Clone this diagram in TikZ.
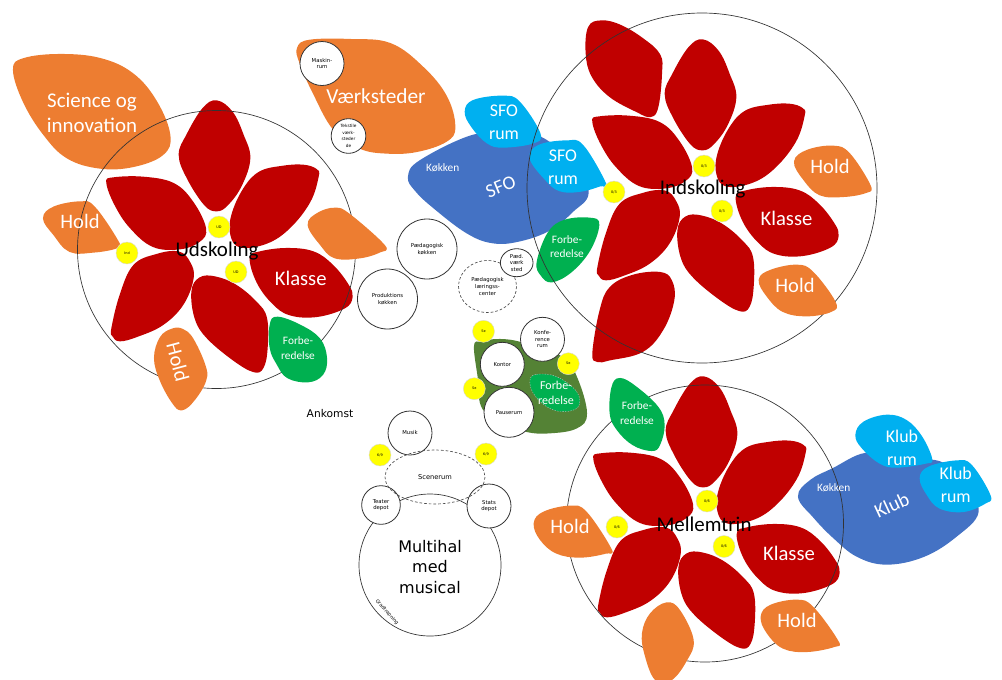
\documentclass[tikz,border=0pt]{standalone}
\usepackage{fontspec}
\usetikzlibrary{shapes.geometric}
\setmainfont{Carlito}
\newfontfamily\dvf{DejaVu Sans}
\definecolor{redp}{HTML}{C00000}
\definecolor{orap}{HTML}{ED7D31}
\definecolor{blup}{HTML}{4472C4}
\definecolor{cyap}{HTML}{00B0F0}
\definecolor{grnp}{HTML}{00B050}
\definecolor{dgrn}{HTML}{548235}
\definecolor{yelc}{HTML}{FFFF00}
\tikzset{
 ring/.style={draw=black!80,line width=0.5pt},
 dring/.style={draw=black!70,line width=0.5pt,dash pattern=on 2pt off 1.5pt},
 room/.style={circle,draw=black!80,fill=white,line width=0.6pt,inner sep=0pt,align=center,font=\dvf\fontsize{4}{4.8}\selectfont},
 yelb/.style={circle,fill=yelc,draw=black!15,line width=0.3pt,minimum size=16.5pt,inner sep=0pt,font=\dvf\fontsize{2.6}{3}\selectfont},
 wt/.style={text=white,align=center,inner sep=0pt},
 ttl/.style={text=black,inner sep=0pt,font=\fontsize{15.7}{18}\selectfont},
 holdt/.style={wt,font=\fontsize{15.4}{18}\selectfont},
 klt/.style={wt,font=\fontsize{15.5}{18}\selectfont},
 fbt/.style={wt,font=\fontsize{8.5}{11}\selectfont},
 rumt/.style={wt,font=\fontsize{13.4}{17.5}\selectfont},
 kkt/.style={wt,font=\fontsize{8.5}{10}\selectfont},
}
\newcommand{\blob}[2]{\path[fill=#1,draw=#1,line width=2pt,line join=round] plot[smooth cycle,tension=0.65] coordinates {#2};}
\newcommand{\flower}{%
 \blob{redp}{(216.7,101.7)(231.7,112.7)(242.3,135)(249,158.3)(240.7,185)(227.3,204)(216.7,210)(205,204)(188.3,178.3)(180,155)(187.7,135)(203.3,109.3)}
 \blob{redp}{(107.7,183.3)(113.3,178.7)(143.3,178)(173.3,184.3)(192.3,202.7)(204.7,228.3)(199,240.7)(180,248)(153.3,245.7)(131,227.3)(116,205)}
 \blob{redp}{(303.3,166)(315.7,170)(317.3,176.7)(309,201.7)(289,227.3)(266.7,242.3)(241,246.3)(231.7,235)(232.7,215)(244.3,189.3)(260,172.7)(283.3,167)}
 \blob{redp}{(251,258.3)(260,252.7)(286.7,249.3)(313.3,252.7)(332.3,266)(347.3,285)(351.3,296.7)(344,307.3)(316.7,315.7)(290,314)(272.7,302.3)(257.7,281.7)}
 \blob{redp}{(192.7,291.7)(200,278.7)(215,277.7)(235.7,286)(255.7,302.7)(265.7,318.3)(266.3,348.3)(262.3,367.3)(253.3,370.7)(233.3,359)(207.7,337.3)(196,318.3)}
 \blob{redp}{(112.7,328.3)(121,295)(134.3,266)(156.7,255.3)(178.3,252.7)(189,262.7)(192.3,278.3)(182.3,304)(162.3,324)(136.7,335.7)(120,340)(113.7,335.7)}
}
\begin{document}
\begin{tikzpicture}[x=0.75pt,y=-0.75pt]
\useasboundingbox (0,0) rectangle (1002,679);
% science, vaerksteder
\blob{orap}{(14.3,70)(24.3,59.3)(60,55.3)(100,59.3)(132.3,74.3)(155.7,101.7)(169,135)(162.3,154)(133.3,165.7)(100,167.3)(67.7,157.3)(44.3,134)(24.3,101.7)}
\blob{orap}{(298.3,48.3)(310,41)(350,40.3)(390,44.3)(422.3,67.7)(445.7,96.7)(454,126.7)(445.7,140.7)(416.7,150.7)(386.7,152.3)(360,147.3)(334.3,129)(314.3,93.3)(301,63.3)}
% sfo
\blob{blup}{(409.3,176.7)(421,161)(473.3,136)(510,136)(540,137.7)(574,166)(587.3,193)(572,211)(550,229)(520,240)(493,242)(467,232)(434,207)(416,190)}
\blob{cyap}{(466,111.7)(474.3,101)(503.3,97)(519,102.7)(539,133.3)(532.3,142.3)(503.3,146.3)(487.7,142.3)(472.7,126.7)}
\blob{cyap}{(531,158.3)(539.3,146)(566.7,141.7)(582.3,146)(604,182)(600,185)(580,190.5)(560,190)(546,179)}
% udskoling
\flower
\blob{orap}{(44.3,218.3)(54.3,207.7)(80,202.7)(94,207.7)(117.3,241.7)(115.7,247.3)(93.3,251.3)(70,250.7)(54.3,234)}
\draw[ring] (216.5,249.5) circle (139);
\blob{orap}{(309,225)(318,214)(335,209)(349,215)(383,245)(380,251)(360,257)(335,257)(321,244)}
\blob{orap}{(155.3,358)(161,338)(172,330)(182,330)(192,339)(204,365)(205,380)(194,399)(182,409)(173,402)(161,380)}
\blob{grnp}{(271,325)(277.7,318)(300,326)(319,339.3)(325.7,358)(322,374)(308,381)(288,377)(278,364)(271,348)}
% indskoling
\begin{scope}[shift={(486,-61)}]
 \flower
\end{scope}
\blob{redp}{(587,53.3)(589.3,27.7)(601.7,21.7)(620,26)(642.3,39.3)(659,55)(660.7,73.3)(657.3,105.7)(650.7,115.7)(636.7,110.7)(610,95.7)(592.7,75.7)}
\blob{redp}{(593.7,352.3)(601,310)(611,287.7)(633.3,276)(660,273.3)(670.7,281)(673,300)(662.3,329)(642.3,350.7)(610,359)(597.7,360.7)}
\blob{grnp}{(598,225)(590,219)(565,221)(549,233)(538,262)(542,275)(552,281)(571,271)(589,250)}
\draw[ring] (702,188) circle (175);
\blob{orap}{(795.3,161.7)(807.7,151)(833.3,147)(849,154.3)(869,185)(865.7,191.7)(843.3,195.7)(820,194)(804.3,179)}
\blob{orap}{(760,280)(771,271)(796.7,266)(812.3,272.7)(834,301.7)(830.7,310.7)(806.7,315)(783.3,310.7)(767.7,295.7)}
% klub
\blob{blup}{(799.3,496.7)(811,481)(833.3,469.3)(865,454.3)(890,461)(940,462.7)(962.3,486.7)(977.3,511.7)(955.7,535.7)(923.3,555.7)(886.7,563.3)(857.7,555.7)(834.3,537.3)(814.3,516.7)}
\blob{cyap}{(856.7,435)(864.3,422.7)(886.7,416)(905.7,421)(920.7,436.7)(930.7,458.3)(925.7,462.3)(896.7,466.3)(880,462.3)(862.7,447.3)}
\blob{cyap}{(921,478.3)(929.3,467.7)(956.7,461.7)(971,466)(989,495)(985,502.3)(963.3,510.7)(940,507.3)(927.7,494)}
% mellemtrin
\begin{scope}[shift={(487,276)}]
 \flower
\end{scope}
\draw[ring] (705,523.5) circle (138.5);
\blob{orap}{(535,523.3)(544.3,512.7)(570,507)(585.7,512.7)(609.7,548.3)(605.7,552.3)(580,556.3)(556.7,552.3)(541,539)}
\blob{orap}{(643.3,633.3)(651,614.3)(666.7,603.7)(679,611)(692.3,640)(685.7,660)(671,679)(656,679)(646,655)}
\blob{orap}{(762,616.7)(771,606)(796.7,601)(812.3,607.7)(836.3,640)(834,645.7)(806.7,650.7)(783.3,647.3)(767.7,632.3)}
\blob{grnp}{(611,413.3)(612.7,387.7)(620,379.3)(635.7,387.7)(657.3,407.7)(663.3,425)(659,444)(651.7,449.7)(633.3,444)(617.7,429)}
% admin
\blob{dgrn}{(475.3,346.7)(481,342.7)(500,340.3)(523,344)(562,358)(576,378)(585.7,413.3)(576,427.3)(550,432)(527,430.7)(510,422)(484,409)(479,377)}
\path[fill=grnp,draw=white!75!black,line width=0.3pt,dash pattern=on 1pt off 1pt] plot[smooth cycle,tension=0.65] coordinates {(530,380)(536.7,374.3)(556.7,376.7)(576.7,391.7)(578.3,406.7)(563.3,411.7)(546.7,406.7)(533.3,393.3)};
% rooms
\node[room,minimum size=33pt] (mask) at (322,63.5) {Maskin-\\rum};
\node[room,minimum size=26pt,font=\dvf\fontsize{3.2}{4.8}\selectfont] (tek) at (348.5,136) {Tekstile\\værk-\\steder\\de};
\node[room,minimum size=45pt] (pk) at (427,249) {Pædagogisk\\køkken};
\node[room,minimum size=45pt] (prod) at (387.5,299) {Produktions\\køkken};
\draw[dring,fill=white] (487.5,286.5) ellipse (29 and 26);
\node[inner sep=0pt,align=center,font=\dvf\fontsize{4}{5.2}\selectfont] (plc) at (487.5,286.5) {Pædagogisk\\læringss-\\center};
\node[room,ellipse,minimum width=24.5pt,minimum height=21pt] (pv) at (516.7,262.7) {Pæd.\\værk\\sted};
\node[room,minimum size=33pt] (konf) at (542.5,339.3) {Konfe-\\rence\\rum};
\node[room,minimum size=33pt] (kon) at (502.3,364.3) {Kontor};
\node[room,minimum size=37.5pt] (pau) at (509,412.3) {Pauserum};
\node[yelb] (y1) at (483.5,331.3) {Se};
\node[yelb] (y2) at (568.3,363.7) {Se};
\node[yelb] (y3) at (474.3,388.7) {Se};
\node[yelb] (ua) at (219,227) {UD};
\node[yelb] (ub) at (127,253) {Ind};
\node[yelb] (uc) at (236,272) {UD};
\node[yelb] (ia) at (704,166) {0/3};
\node[yelb] (ib) at (614,192) {0/3};
\node[yelb] (ic) at (722,211) {0/3};
\node[yelb] (ma) at (707,501) {0/6};
\node[yelb] (mb) at (617,527) {0/6};
\node[yelb] (mc) at (724,546.5) {0/6};
% hall
\node[room,minimum size=33pt] (mus) at (410,433) {Musik};
\node[yelb] (y4) at (380,455) {6/9};
\node[yelb] (y5) at (486,454) {6/9};
\draw[ring,fill=white] (430,565) circle (71);
\node[room,minimum size=29pt] (ted) at (381,505) {Teater\\depot};
\node[room,minimum size=33pt] (std) at (489,506) {Stats\\depot};
\draw[dring] (435,477) ellipse (50 and 27);
\node[inner sep=0pt,font=\dvf\fontsize{5}{6}\selectfont] (sc) at (435,477) {Scenerum};
\node[inner sep=0pt,align=center,font=\dvf\fontsize{12}{15.5}\selectfont] (mh) at (430,567) {Multihal\\med\\musical};
\node[inner sep=0pt,rotate=-48,font=\dvf\fontsize{3.6}{4}\selectfont] (gr) at (387,612) {Gradtrapning};
\node[inner sep=0pt,font=\dvf\fontsize{8}{10}\selectfont] (ank) at (330,414) {Ankomst};
% labels
\node[wt,font=\fontsize{15.7}{18.75}\selectfont] (t1) at (92,112.5) {Science og\\innovation};
\node[wt,font=\fontsize{16}{18}\selectfont] (t2) at (376,96.5) {Værksteder};
\node[rumt] at (504,122) {SFO\\rum};
\node[rumt] at (563,167) {SFO\\rum};
\node[kkt] at (442.7,168) {Køkken};
\node[wt,font=\fontsize{14.5}{16}\selectfont,rotate=22] at (500.7,186.7) {SFO};
\node[holdt] at (80,221) {Hold};
\node[ttl] at (217,251) {Udskoling};
\node[klt] at (300.7,278.5) {Klasse};
\node[holdt,rotate=-75] at (178,362) {Hold};
\node[fbt] at (298,348) {Forbe-\\redelse};
\node[ttl] at (702.7,189) {Indskoling};
\node[holdt] at (830,166) {Hold};
\node[klt] at (786.5,218) {Klasse};
\node[holdt] at (795,285) {Hold};
\node[fbt] at (567,246.5) {Forbe-\\redelse};
\node[wt,font=\fontsize{9}{10.7}\selectfont] at (556,393) {Forbe-\\redelse};
\node[fbt] at (637,413) {Forbe-\\redelse};
\node[ttl] at (704,524) {Mellemtrin};
\node[holdt] at (570,526) {Hold};
\node[klt] at (789,553) {Klasse};
\node[holdt] at (797,620) {Hold};
\node[rumt] at (902,448) {Klub\\rum};
\node[rumt] at (955.7,485) {Klub\\rum};
\node[kkt] at (833.7,487.7) {Køkken};
\node[wt,font=\fontsize{15}{17}\selectfont,rotate=25] at (891.7,505) {Klub};
\end{tikzpicture}
\end{document}
